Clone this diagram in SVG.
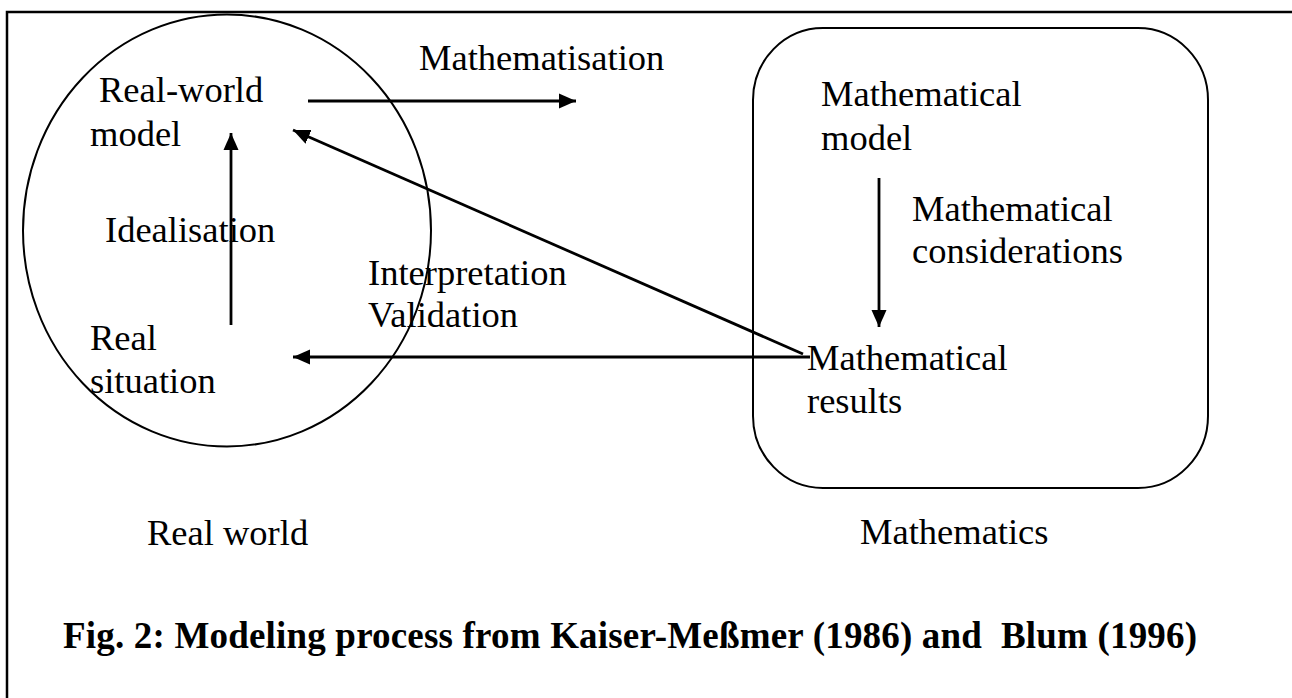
<svg xmlns="http://www.w3.org/2000/svg" width="1292" height="698" viewBox="0 0 1292 698">
<style>
.t{font-family:"Liberation Serif","Times New Roman",serif;font-size:36.5px;fill:#000}
.b{font-family:"Liberation Serif","Times New Roman",serif;font-size:37px;font-weight:bold;fill:#000}
.s{fill:none;stroke:#000;stroke-width:2}
.c{fill:none;stroke:#000;stroke-width:2.8}
</style>
<defs>
<marker id="ah" markerUnits="userSpaceOnUse" markerWidth="18" markerHeight="18" viewBox="0 0 18 18" refX="17" refY="9" orient="auto">
<path d="M0,1.5 L17,9 L0,16.5 Z" fill="#000"/>
</marker>
</defs>
<rect width="1292" height="698" fill="#fff"/>
<rect id="frame" x="7" y="12" width="1300" height="700" fill="none" stroke="#000" stroke-width="2.5"/>
<g id="real-world">
<ellipse class="s" cx="227" cy="230.5" rx="204" ry="216"/>
<text class="t" x="147" y="545">Real world</text>
</g>
<g id="mathematics">
<rect class="s" x="753" y="28" width="455" height="460" rx="70" ry="72"/>
<text class="t" x="860" y="544">Mathematics</text>
</g>
<g id="real-world-model">
<text class="t" x="99" y="102">Real-world</text>
<text class="t" x="90" y="146">model</text>
</g>
<g id="real-situation">
<text class="t" x="90" y="350">Real</text>
<text class="t" x="90" y="393">situation</text>
</g>
<g id="mathematical-model">
<text class="t" x="821" y="106">Mathematical</text>
<text class="t" x="821" y="150">model</text>
</g>
<g id="mathematical-results">
<text class="t" x="807" y="370">Mathematical</text>
<text class="t" x="807" y="413">results</text>
</g>
<g id="connectors">
<line class="c" x1="308" y1="101" x2="576" y2="101" marker-end="url(#ah)"/>
<line class="c" x1="231" y1="325" x2="231" y2="133" marker-end="url(#ah)"/>
<line class="c" x1="803" y1="354" x2="293" y2="130" marker-end="url(#ah)"/>
<line class="c" x1="810" y1="357" x2="293" y2="357" marker-end="url(#ah)"/>
<line class="c" x1="879" y1="178" x2="879" y2="327" marker-end="url(#ah)"/>
<text class="t" x="419" y="70">Mathematisation</text>
<text class="t" x="105" y="242">Idealisation</text>
<text class="t" x="368" y="285">Interpretation</text>
<text class="t" x="368" y="327">Validation</text>
<text class="t" x="912" y="221">Mathematical</text>
<text class="t" x="912" y="263">considerations</text>
</g>
<text id="caption" class="b" x="63" y="648" textLength="1134" lengthAdjust="spacing">Fig. 2: Modeling process from Kaiser-Meßmer (1986) and &#160;Blum (1996)</text>
</svg>
